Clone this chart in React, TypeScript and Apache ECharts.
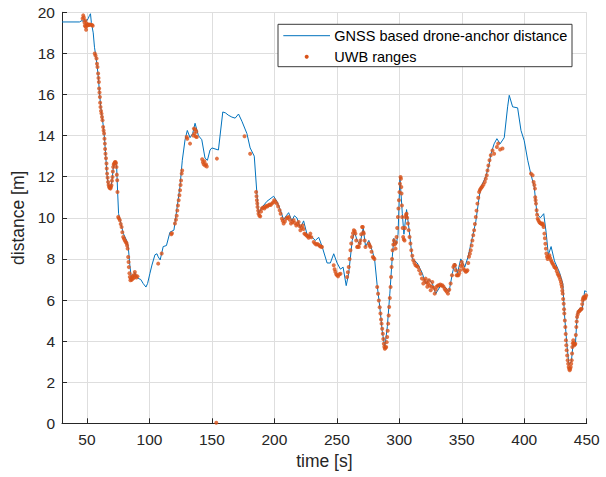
import React, { useEffect, useRef } from "react";
import * as echarts from "echarts";

const xTicks = [50, 100, 150, 200, 250, 300, 350, 400, 450];
const yTicks = [0, 2, 4, 6, 8, 10, 12, 14, 16, 18, 20];

const gnssLabel = "GNSS based drone-anchor distance";
const uwbLabel = "UWB ranges";

const gnssTime = [
  30, 44, 46, 47, 48, 49, 50, 51, 52, 52.8, 53.5, 55, 56, 57, 58, 59, 60, 61, 62, 63, 64, 65, 66, 67, 68, 69, 70, 71, 72, 73,
  73.8, 74.5, 75.3, 76.3, 79, 81.7, 83, 84.3, 85.7, 87, 88.3, 89, 91, 93, 95, 97.2, 98.5, 100.4, 102, 104.4, 106, 107,
  108.6, 111, 113.6, 116.4, 119.6, 121.2, 124.4, 126.3, 128.5, 130.3, 132.5, 134.6, 136.5, 139.2, 141.9, 144.5, 146.4,
  148.5, 150, 155.2, 158.7, 161, 163, 166, 168.6, 171.3, 174, 178, 180.6, 183.9, 186, 187.3, 190, 194, 199.4, 202, 204.7,
  207.4, 209.5, 211.4, 214, 216, 218, 220.8, 223.4, 226.1, 230.2, 232.8, 235.5, 238.2, 242.2, 244.8, 247.5, 250.2, 252.9,
  255, 257.5, 259.5, 262.3, 264.1, 266.3, 268.4, 271.1, 273, 275.6, 278.3, 280.2, 282.3, 284.4, 286.3, 288.4, 290.4,
  292.4, 294.4, 295.6, 297.5, 299, 300.5, 302.4, 303.7, 305.8, 307.7, 310.4, 314.4, 318.4, 321.1, 323.7, 326.5, 329.1,
  333.1, 337.2, 339.8, 342.5, 344.4, 346.5, 349.2, 352.4, 355, 357.2, 361.2, 363.9, 365.3, 369.2, 371.9, 373.3, 375.9,
  378.1, 380.7, 384, 386.7, 388, 390.7, 394.7, 397.4, 400, 402.8, 405.4, 408, 410.2, 412.9, 415.6, 417.5, 419.3, 421.5,
  424.2, 428.2, 430.9, 432.2, 434.2, 435.8, 437.7, 439, 440.9, 442.5, 444.4, 446.3, 448.4, 450,
];
const gnssDist = [
  19.53, 19.53, 19.6, 19.55, 19.65, 19.55, 19.6, 19.7, 19.85, 19.93, 19.5, 19.0, 18.3, 17.9, 17.45, 16.9, 16.1, 15.4, 14.95,
  14.5, 13.9, 13.0, 12.1, 11.6, 11.45, 11.45, 11.8, 12.4, 12.7, 12.75, 12.4, 11.3, 10.2, 9.95, 9.25, 8.9, 8.6, 7.7, 6.95,
  7.1, 7.35, 7.2, 7.05, 7.0, 6.8, 6.63, 6.8, 7.3, 7.7, 8.2, 8.25, 8.1, 7.95, 8.6, 8.65, 9.3, 9.4, 10.1, 11.5, 12.8, 13.8,
  14.25, 13.9, 14.1, 14.6, 14.0, 13.8, 12.9, 12.8, 13.3, 13.4, 13.3, 15.15, 15.1, 15.0, 14.9, 14.85, 15.05, 14.7, 14.1,
  13.4, 13.0, 11.2, 10.2, 10.5, 10.8, 11.05, 10.8, 10.4, 9.9, 10.1, 10.25, 9.85, 10.1, 10.0, 9.5, 9.85, 9.2, 9.05, 8.9,
  9.05, 8.6, 7.8, 7.8, 8.25, 7.8, 7.5, 7.6, 6.7, 7.3, 8.9, 9.3, 8.9, 8.7, 9.5, 8.6, 8.9, 8.4, 8.0, 6.7, 5.65, 4.5, 3.7,
  4.7, 6.3, 8.1, 9.0, 8.7, 9.2, 12.0, 10.2, 9.2, 10.4, 9.5, 8.0, 7.8, 7.3, 6.8, 7.0, 6.8, 6.3, 6.7, 6.6, 6.4, 7.3, 7.8,
  7.3, 8.0, 7.6, 8.1, 8.7, 9.8, 11.0, 11.5, 12.0, 12.6, 13.1, 13.6, 13.85, 13.6, 13.9, 15.4, 15.96, 15.4, 15.35, 14.25,
  13.75, 12.8, 12.1, 11.5, 10.2, 10.0, 10.2, 9.3, 8.2, 8.6, 7.9, 7.35, 6.8, 5.3, 3.8, 2.85, 3.0, 3.8, 3.8, 5.4, 5.6, 5.5,
  6.45, 6.4,
];

const uwbRanges: number[][] = [
  [46.5, 19.7], [47, 19.85], [47.5, 19.75], [48, 19.5], [48.3, 19.35], [48.7, 19.6], [49, 19.3], [49.3, 19.15], [49.6, 19.45],
  [50, 19.35], [50.5, 19.4], [51, 19.4], [51.5, 19.38], [52, 19.4], [53, 19.4], [54, 19.38], [54.6, 19.35],
  [56.2, 17.99], [56.8, 17.9], [57.6, 17.75], [58.0, 17.5], [58.4, 17.34], [58.9, 17.02], [59.2, 16.8], [59.5, 16.61],
  [59.7, 16.29], [60.0, 16.1], [60.3, 15.88], [60.5, 15.6], [60.8, 15.39], [61.2, 15.2], [61.6, 15.07], [62.0, 14.9],
  [62.4, 14.75], [62.9, 14.42], [63.3, 14.25], [63.7, 14.1], [64.0, 13.85], [64.3, 13.61], [64.5, 13.35], [64.8, 13.12],
  [65.2, 12.9], [65.6, 12.64], [65.8, 12.4], [66.1, 12.15], [66.5, 11.95], [66.9, 11.74], [67.3, 11.6], [67.7, 11.5],
  [68.2, 11.45], [68.8, 11.42], [69.2, 11.5], [69.6, 11.58], [70.0, 11.8], [70.4, 11.99], [70.7, 12.25], [71.0, 12.47],
  [71.4, 12.6], [71.8, 12.64], [72.3, 12.7], [72.8, 12.72], [73.2, 12.65], [73.6, 12.47], [73.9, 12.1], [74.2, 11.83],
  [74.4, 11.26],
  [75.0, 10.04], [75.5, 9.98], [76.3, 9.88], [77.0, 9.7], [77.7, 9.55], [78.3, 9.3], [79.0, 9.07], [79.6, 8.98],
  [80.3, 8.9], [81.0, 8.82], [81.7, 8.76], [82.1, 8.65], [82.5, 8.5], [83.0, 8.09], [83.3, 7.85], [83.5, 7.6], [84.0, 7.3],
  [84.3, 7.12], [84.8, 6.96], [85.3, 7.05], [85.8, 6.98], [86.3, 7.15], [86.8, 7.05], [87.3, 7.2], [87.8, 7.1],
  [88.3, 7.36], [88.8, 7.2], [89.6, 7.1], [90.4, 7.15],
  [107.0, 7.77], [109.8, 8.26], [117.5, 9.2], [118.0, 9.25], [120.4, 9.72], [121.2, 9.9], [121.8, 10.1], [122.3, 10.36],
  [122.8, 10.6], [123.4, 10.85], [124.0, 11.1], [124.5, 11.34], [124.9, 11.6], [125.3, 11.82], [125.8, 12.15], [126.2, 12.3],
  [129.8, 13.93], [130.3, 13.85], [132.5, 13.61], [135.1, 14.0], [135.6, 14.34], [136.1, 14.1], [136.6, 14.3],
  [137.1, 13.95], [137.5, 14.2], [137.9, 13.93], [142.2, 12.85], [142.8, 12.7], [143.4, 12.6], [144.0, 12.75],
  [144.6, 12.55], [145.3, 12.6], [145.9, 12.5], [153.5, 0.03], [154.0, 12.88], [176.1, 13.97], [180.6, 13.12],
  [185.4, 11.26], [185.7, 11.05], [186.0, 10.85], [186.3, 10.7], [186.5, 10.53], [187.0, 10.35], [187.3, 10.2],
  [188.0, 10.1], [188.7, 10.07], [189.3, 10.3], [190.0, 10.45], [191.0, 10.5], [192.0, 10.45], [192.7, 10.53],
  [193.5, 10.58], [194.3, 10.55], [195.3, 10.61], [196.2, 10.65], [197.0, 10.62], [198.0, 10.69], [199.0, 10.75],
  [199.9, 10.85], [200.8, 10.78], [202.0, 10.69], [203.0, 10.55], [204.2, 10.37], [205.0, 10.2], [206.0, 9.96],
  [206.7, 9.85], [207.4, 9.72], [208.4, 9.82], [209.5, 9.96], [210.4, 10.0], [211.4, 10.04], [212.3, 9.9], [213.3, 9.72],
  [214.3, 9.8], [215.4, 9.88], [216.4, 9.75], [217.5, 9.63], [218.4, 9.7], [219.4, 9.8], [220.1, 9.6], [220.8, 9.39],
  [221.7, 9.5], [222.6, 9.63], [223.3, 9.45], [224.0, 9.23], [224.8, 9.2], [225.6, 9.15], [226.5, 9.1], [227.4, 9.03],
  [228.1, 9.1], [228.8, 9.23], [229.6, 9.05], [231.5, 8.82], [232.5, 8.75], [233.5, 8.7], [234.5, 8.72], [235.5, 8.68],
  [236.5, 8.62], [237.3, 8.6], [238.1, 8.58],
  [247.5, 7.69], [248.2, 7.5], [248.8, 7.37], [249.5, 7.25], [250.2, 7.2], [251.0, 7.15], [252.0, 7.25], [252.9, 7.28],
  [258.2, 7.12], [258.8, 7.35], [259.5, 7.61], [260.2, 8.0], [260.9, 8.42], [261.5, 8.75], [262.2, 9.07], [262.9, 9.25],
  [263.6, 9.39], [264.3, 9.35], [264.9, 9.23], [265.5, 8.9], [266.2, 8.58], [266.9, 8.6], [267.6, 8.58], [268.3, 8.75],
  [268.9, 8.9], [269.5, 9.2], [270.2, 9.55], [270.8, 9.55], [271.2, 9.3], [271.6, 9.23], [272.3, 8.9], [272.9, 8.58],
  [275.6, 8.74], [276.2, 8.65], [276.9, 8.58], [277.8, 8.35], [278.8, 8.09], [279.5, 8.05], [280.1, 8.0],
  [282.3, 6.63], [283.0, 6.3], [283.6, 5.98], [284.3, 5.65], [284.9, 5.34], [285.4, 5.05], [285.8, 4.85], [286.3, 4.6],
  [286.8, 4.36], [287.2, 4.1], [287.6, 3.87], [288.0, 3.72], [288.4, 3.63], [289.0, 3.68], [289.5, 3.71], [289.9, 3.95],
  [290.3, 4.2], [290.7, 4.5], [291.1, 4.85], [291.5, 5.25], [291.9, 5.66], [292.4, 6.1], [293.0, 6.63], [293.4, 7.12],
  [293.8, 7.61], [294.2, 8.0], [294.6, 8.42], [295.2, 8.7], [295.7, 8.9], [296.3, 8.7], [297.0, 8.5], [297.4, 8.8],
  [297.8, 9.07], [298.3, 9.5], [298.9, 10.04], [299.3, 10.45], [299.7, 10.85], [300.1, 11.25], [300.5, 11.66],
  [301.0, 11.99], [301.3, 11.9], [301.6, 11.5], [301.8, 11.18], [302.1, 10.6], [302.3, 10.04], [302.7, 9.5], [303.1, 9.07],
  [303.6, 8.95], [304.2, 8.9], [304.6, 9.5], [305.0, 10.04], [305.4, 10.15], [305.8, 10.2], [306.3, 10.0], [306.9, 9.72],
  [307.5, 9.4], [308.2, 9.07], [308.9, 8.75], [309.6, 8.42], [310.4, 8.15], [311.2, 7.93], [312.1, 7.8], [313.0, 7.69],
  [313.9, 7.65], [314.9, 7.61], [315.9, 7.45], [317.0, 7.28], [318.1, 7.05], [319.2, 6.8], [320.1, 6.95], [321.1, 7.04],
  [321.8, 6.85], [322.4, 6.64], [323.0, 6.8], [323.7, 6.96], [324.4, 6.7], [325.1, 6.47], [325.8, 6.65], [326.4, 6.88],
  [327.3, 6.6], [328.3, 6.31], [329.1, 6.5], [329.9, 6.64], [330.8, 6.7], [331.8, 6.72], [332.8, 6.75], [333.6, 6.7],
  [334.4, 6.72], [335.4, 6.65], [336.3, 6.55], [337.1, 6.47], [338.0, 6.4], [339.0, 6.31], [340.0, 6.5], [341.1, 6.8],
  [342.2, 7.2], [343.3, 7.61], [344.0, 7.7], [344.6, 7.69], [345.3, 7.45], [345.9, 7.2], [346.6, 7.2], [347.3, 7.2],
  [348.0, 7.3], [348.6, 7.45], [349.3, 7.65], [350.0, 7.85], [350.6, 7.7], [351.3, 7.53], [352.2, 7.45], [353.2, 7.37],
  [353.9, 7.4], [354.5, 7.45], [355.2, 7.8], [355.8, 8.1], [356.5, 8.25], [357.2, 8.42], [357.9, 8.65], [358.5, 8.9],
  [359.2, 9.15], [359.9, 9.39], [360.5, 9.7], [361.2, 10.04], [361.8, 10.35], [362.5, 10.69], [363.2, 10.98],
  [363.9, 11.26], [364.5, 11.35], [365.2, 11.42], [365.8, 11.48], [366.5, 11.53], [367.4, 11.62], [368.4, 11.74],
  [369.2, 11.9], [370.0, 12.07], [370.6, 12.3], [371.3, 12.55], [372.2, 12.8], [373.2, 13.04], [374.6, 13.28],
  [375.9, 13.12], [378.1, 13.45], [379.1, 13.61], [380.7, 13.32], [382.6, 13.37],
  [405.4, 12.15], [406.7, 12.07], [407.5, 11.74], [408.1, 11.6], [408.6, 11.42], [408.8, 11.0], [409.1, 10.85],
  [409.4, 10.69], [409.9, 10.37], [410.3, 10.15], [410.7, 9.96], [411.3, 9.88], [412.0, 9.8], [412.7, 9.75], [413.4, 9.72],
  [414.0, 9.7], [414.7, 9.72], [415.1, 9.65], [415.5, 9.55], [416.1, 9.23], [416.5, 9.0], [416.9, 8.74], [417.3, 8.5],
  [417.7, 8.26], [418.2, 8.1], [418.7, 8.0], [419.4, 8.1], [420.1, 8.18], [420.7, 8.05], [421.4, 7.93], [422.0, 7.85],
  [422.7, 7.77], [423.4, 7.7], [424.1, 7.61], [424.8, 7.58], [425.4, 7.53], [426.1, 7.4], [426.8, 7.28], [427.5, 7.2],
  [428.1, 7.12], [428.8, 7.0], [429.4, 6.88], [429.8, 6.75], [430.2, 6.63], [430.5, 6.45], [430.8, 6.31], [431.2, 6.05],
  [431.6, 5.82], [431.9, 5.55], [432.1, 5.34], [432.5, 5.0], [432.9, 4.69], [433.2, 4.35], [433.4, 4.04], [433.7, 3.8],
  [434.0, 3.55], [434.4, 3.3], [434.8, 3.07], [435.2, 2.9], [435.6, 2.74], [436.0, 2.65], [436.4, 2.58], [436.8, 2.65],
  [437.2, 2.74], [437.6, 2.9], [438.0, 3.07], [438.3, 3.4], [438.5, 3.71], [438.9, 3.9], [439.3, 4.04], [439.7, 3.9],
  [440.1, 3.8], [440.5, 3.85], [440.9, 3.87], [441.3, 4.3], [441.7, 4.69], [442.0, 4.95], [442.3, 5.17], [442.8, 5.3],
  [443.3, 5.42], [444.0, 5.45], [444.7, 5.5], [445.4, 5.55], [446.0, 5.58], [446.4, 5.8], [446.8, 5.99], [447.2, 6.08],
  [447.6, 6.15], [448.2, 6.1], [448.7, 6.07], [449.1, 6.15], [449.5, 6.23],
];

const BLUE = "#0072BD";
const ORANGE = "#D95319";
const AXIS = "#262626";
const GRID = "#dedede";
const FONT = "'Liberation Sans', Arial, Helvetica, sans-serif";

export default function App() {
  const ref = useRef<HTMLDivElement>(null);
  useEffect(() => {
    if (!ref.current) return;
    const chart = echarts.init(ref.current, undefined, { renderer: "svg" });
    const gnss = gnssTime.map((t, i) => [t, gnssDist[i]]);
    const LX = 278;
    const LY = 24.3;
    chart.setOption({
      animation: false,
      backgroundColor: "#ffffff",
      textStyle: { fontFamily: FONT },
      grid: { left: 62, right: 19.3, top: 12.3, bottom: 53.7, containLabel: false },
      xAxis: {
        type: "value",
        min: 30,
        max: 450,
        name: "time [s]",
        nameLocation: "middle",
        nameGap: 29,
        nameTextStyle: { fontSize: 17.5, color: AXIS, fontFamily: FONT },
        axisLine: { show: true, onZero: false, lineStyle: { color: AXIS, width: 1 } },
        axisTick: { show: true, inside: true, length: 5, customValues: xTicks, lineStyle: { color: AXIS } },
        axisLabel: { customValues: xTicks, fontSize: 15.5, color: AXIS, margin: 8, fontFamily: FONT },
        splitLine: { show: true, lineStyle: { color: GRID, width: 1 } },
      },
      yAxis: {
        type: "value",
        min: 0,
        max: 20,
        interval: 2,
        name: "distance [m]",
        nameLocation: "middle",
        nameGap: 33,
        nameTextStyle: { fontSize: 17.5, color: AXIS, fontFamily: FONT },
        axisLine: { show: true, lineStyle: { color: AXIS, width: 1 } },
        axisTick: { show: true, inside: true, length: 5, lineStyle: { color: AXIS } },
        axisLabel: { fontSize: 15.5, color: AXIS, margin: 7, fontFamily: FONT },
        splitLine: { show: true, lineStyle: { color: GRID, width: 1 } },
      },
      series: [
        {
          name: gnssLabel,
          type: "line",
          data: gnss,
          showSymbol: false,
          symbol: "none",
          lineStyle: { color: BLUE, width: 1 },
          z: 2,
          clip: true,
        },
        {
          name: uwbLabel,
          type: "scatter",
          data: uwbRanges,
          symbol: "circle",
          symbolSize: 4,
          itemStyle: { color: ORANGE },
          z: 3,
          clip: false,
        },
      ],
      graphic: {
        elements: [
          {
            type: "rect",
            z: 100,
            zlevel: 0,
            shape: { x: LX, y: LY, width: 294, height: 42.4 },
            style: { fill: "#ffffff", stroke: "#3a3a3a", lineWidth: 1 },
          },
          {
            type: "line",
            z: 101,
            shape: { x1: LX + 5.3, y1: LY + 11.4, x2: LX + 52, y2: LY + 11.4 },
            style: { stroke: BLUE, lineWidth: 1 },
          },
          {
            type: "circle",
            z: 101,
            shape: { cx: LX + 28.7, cy: LY + 32.4, r: 2 },
            style: { fill: ORANGE },
          },
          {
            type: "text",
            z: 101,
            x: LX + 56.3,
            y: LY + 11.4,
            style: { text: gnssLabel, fontSize: 14.5, fill: "#000000", fontFamily: FONT, verticalAlign: "middle" },
          },
          {
            type: "text",
            z: 101,
            x: LX + 56.3,
            y: LY + 32.4,
            style: { text: uwbLabel, fontSize: 14.5, fill: "#000000", fontFamily: FONT, verticalAlign: "middle" },
          },
        ],
      },
    });
    return () => chart.dispose();
  }, []);
  return (
    <div
      ref={ref}
      style={{ position: "fixed", left: 0, top: 0, width: 606, height: 477, background: "#ffffff" }}
    />
  );
}
